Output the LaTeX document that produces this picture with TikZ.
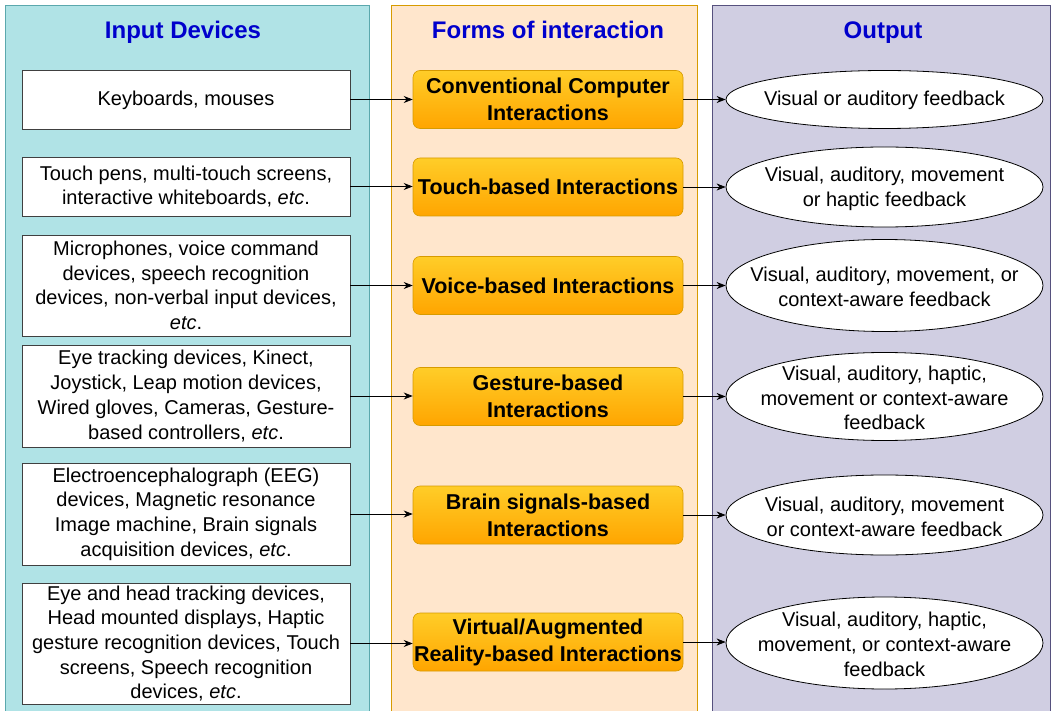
\documentclass[tikz,border=0pt]{standalone}
\usepackage{fontspec}
\setmainfont{Liberation Sans}
\usetikzlibrary{arrows.meta,shapes.geometric}
\definecolor{tealfill}{HTML}{B0E3E6}
\definecolor{tealline}{HTML}{5BA8AD}
\definecolor{peachfill}{HTML}{FFE6CC}
\definecolor{peachline}{HTML}{D79B00}
\definecolor{lilacfill}{HTML}{D0CEE2}
\definecolor{lilacline}{HTML}{56517E}
\definecolor{titleblue}{HTML}{0000CC}
\definecolor{orangetop}{HTML}{FFCD28}
\definecolor{orangebot}{HTML}{FFA500}
\tikzset{
  panel/.style={draw=#1line, fill=#1fill, line width=0.8pt},
  paneltitle/.style={text=titleblue, anchor=base, font=\fontsize{24}{28}\selectfont\bfseries},
  devbox/.style={draw=black!75, fill=white, line width=0.8pt, minimum width=328pt, align=center, inner sep=0pt,
     font=\fontsize{20}{24.7}\selectfont},
  formbox/.style={draw=peachline, top color=orangetop, bottom color=orangebot, rounded corners=7pt,
     line width=0.6pt, minimum width=270pt, minimum height=58pt, align=center, inner sep=0pt,
     font=\fontsize{21.5}{27}\selectfont\bfseries},
  oneline/.style={text height=16pt, text depth=4pt},
  outell/.style={draw=black, fill=white, ellipse, line width=0.8pt, minimum width=317pt, inner sep=0pt},
  outtext/.style={align=center, inner sep=0pt, yshift=-1.5pt, font=\fontsize{20}{24.7}\selectfont},
  conn/.style={-{Stealth[length=9pt,width=7pt]}, line width=0.8pt, black}
}
\begin{document}
\begin{tikzpicture}[x=1pt,y=-1pt]
\useasboundingbox (0,0) rectangle (1055,711);
% panels
\draw[panel=teal] (5,5) rectangle (369,720);
\draw[panel=peach] (391,5) rectangle (697,720);
\draw[panel=lilac] (712,5) rectangle (1050,720);
\node[paneltitle] (t1) at (183,39) {Input Devices};
\node[paneltitle] (t2) at (548,39) {Forms of interaction};
\node[paneltitle] (t3) at (883,39) {Output};
% input devices
\node[devbox, oneline, minimum height=59pt] (d1) at (186,99.5) {Keyboards, mouses};
\node[devbox, minimum height=59pt] (d2) at (186,186.5) {Touch pens, multi-touch screens,\\interactive whiteboards, \textit{etc}.};
\node[devbox, minimum height=101pt] (d3) at (186,285.5) {Microphones, voice command\\devices, speech recognition\\devices, non-verbal input devices,\\\textit{etc}.};
\node[devbox, minimum height=102pt] (d4) at (186,396) {Eye tracking devices, Kinect,\\Joystick, Leap motion devices,\\Wired gloves, Cameras, Gesture-\\based controllers, \textit{etc}.};
\node[devbox, minimum height=102pt] (d5) at (186,514) {Electroencephalograph (EEG)\\devices, Magnetic resonance\\Image machine, Brain signals\\acquisition devices, \textit{etc}.};
\node[devbox, minimum height=121pt] (d6) at (186,643.5) {Eye and head tracking devices,\\Head mounted displays, Haptic\\gesture recognition devices, Touch\\screens, Speech recognition\\devices, \textit{etc}.};
% forms
\node[formbox] (f1) at (548,99.5) {Conventional Computer\\Interactions};
\node[formbox] (f2) at (548,187) {\tikzset{}Touch-based Interactions};
\node[formbox] (f3) at (548,285.5) {Voice-based Interactions};
\node[formbox] (f4) at (548,396.5) {Gesture-based\\Interactions};
\node[formbox] (f5) at (548,515) {Brain signals-based\\Interactions};
\node[formbox] (f6) at (548,642) {Virtual/Augmented\\Reality-based Interactions};
% outputs
\node[outell, minimum height=58pt] (o1) at (884.5,99.5) {};
\node[outtext, oneline, yshift=1.5pt] (ot1) at (o1.center) {Visual or auditory feedback};
\node[outell, minimum height=80pt] (o2) at (884.5,187) {};
\node[outtext] (ot2) at (o2.center) {Visual, auditory, movement\\or haptic feedback};
\node[outell, minimum height=92pt] (o3) at (884.5,285.5) {};
\node[outtext] (ot3) at (o3.center) {Visual, auditory, movement, or\\context-aware feedback};
\node[outell, minimum height=88pt] (o4) at (884.5,396.5) {};
\node[outtext] (ot4) at (o4.center) {Visual, auditory, haptic,\\movement or context-aware\\feedback};
\node[outell, minimum height=80pt] (o5) at (884.5,515) {};
\node[outtext] (ot5) at (o5.center) {Visual, auditory, movement\\or context-aware feedback};
\node[outell, minimum height=92pt] (o6) at (884.5,643) {};
\node[outtext] (ot6) at (o6.center) {Visual, auditory, haptic,\\movement, or context-aware\\feedback};
% connectors
\foreach \i in {1,...,6} {
  \draw[conn] (d\i.east) -- (f\i.west |- d\i.east);
  \draw[conn] (f\i.east) -- (o\i.west |- f\i.east);
}
\end{tikzpicture}
\end{document}
